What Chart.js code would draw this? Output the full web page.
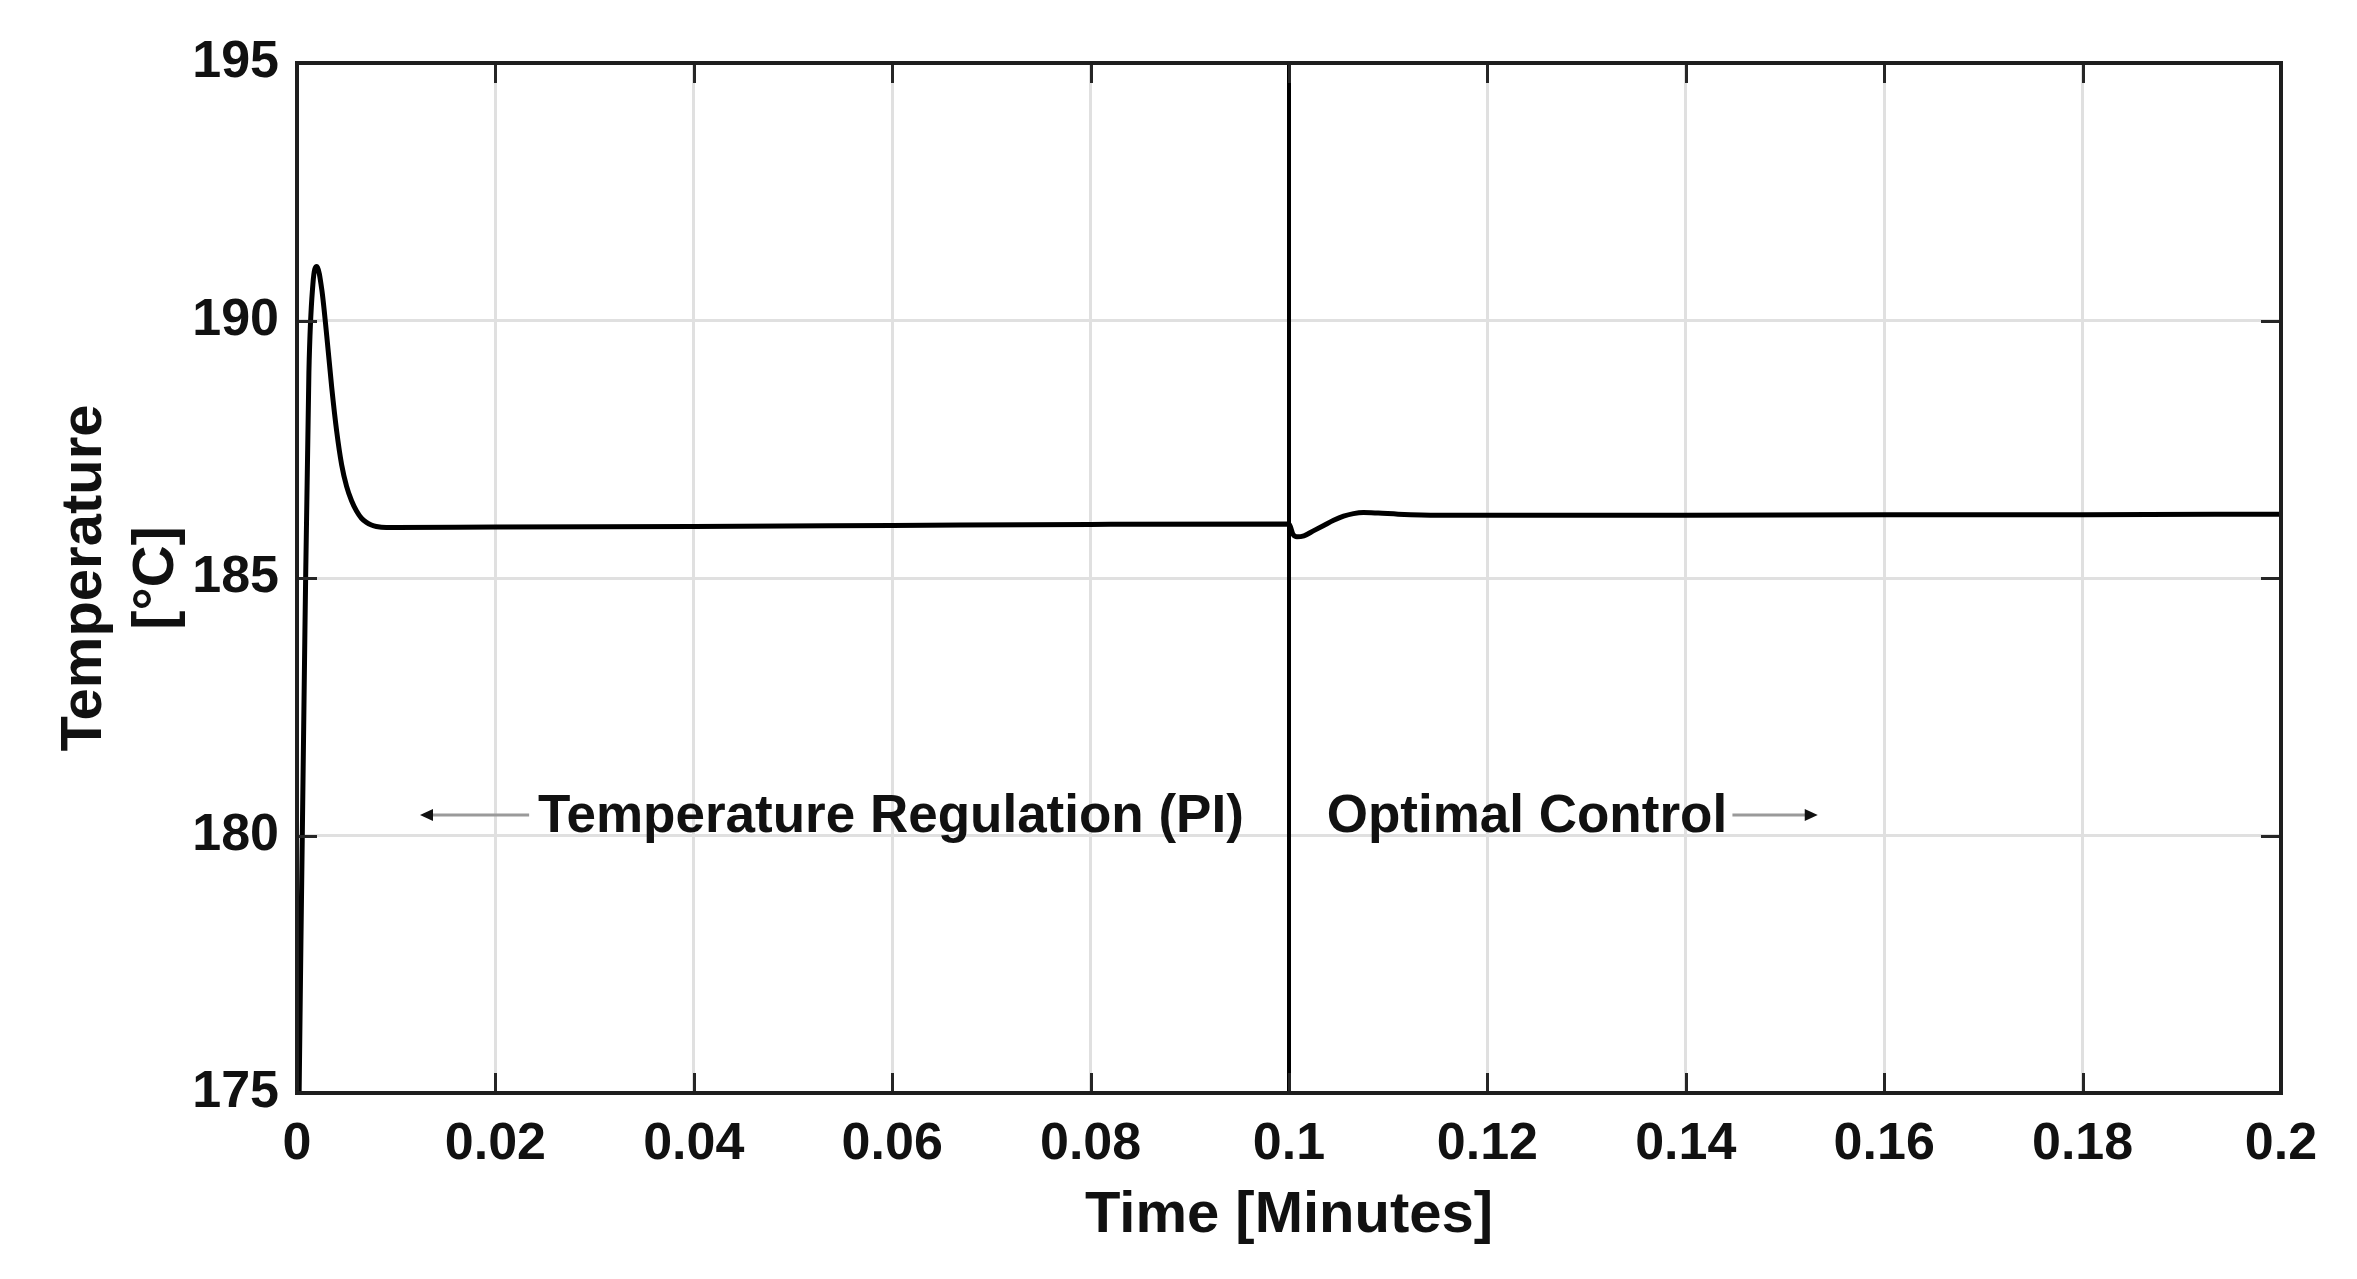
<!DOCTYPE html>
<html>
<head>
<meta charset="utf-8">
<script src="https://cdn.jsdelivr.net/npm/chart.js@4.4.1/dist/chart.umd.min.js"></script>
<style>
  html, body { margin: 0; padding: 0; background: #ffffff; }
  #wrap { width: 2357px; height: 1279px; position: relative; }
</style>
</head>
<body>
<div id="wrap"><canvas id="c"></canvas></div>
<script>
// ---- data ----
const timeMinutes = [0, 0.0004, 0.0008, 0.0012, 0.0016, 0.002, 0.0025, 0.003, 0.0035, 0.004, 0.0045,
  0.005, 0.0055, 0.006, 0.0065, 0.007, 0.0075, 0.008, 0.009, 0.01, 0.02, 0.04, 0.06, 0.08, 0.1,
  0.1004, 0.1008, 0.1015, 0.1025, 0.1035, 0.1045, 0.1055, 0.1065, 0.1075, 0.109, 0.111, 0.115,
  0.12, 0.14, 0.16, 0.18, 0.2];
const temperatureC = [171.5, 178.0, 184.0, 189.0, 190.7, 191.05, 190.6, 189.7, 188.7, 187.85, 187.2,
  186.78, 186.5, 186.3, 186.16, 186.08, 186.03, 186.0, 185.98, 185.98, 185.99, 186.0, 186.02, 186.04, 186.05,
  185.85, 185.80, 185.82, 185.92, 186.02, 186.12, 186.2, 186.25, 186.27, 186.26, 186.24, 186.22,
  186.22, 186.22, 186.23, 186.23, 186.24];
const switchTime = [0.1, 0.1];
const switchTemp = [175, 195];
const xTickValues = [0, 0.02, 0.04, 0.06, 0.08, 0.1, 0.12, 0.14, 0.16, 0.18, 0.2];
const xTickLabels = ['0', '0.02', '0.04', '0.06', '0.08', '0.1', '0.12', '0.14', '0.16', '0.18', '0.2'];
const yTickValues = [175, 180, 185, 190, 195];
const yTickLabels = ['175', '180', '185', '190', '195'];
const xTitle = 'Time [Minutes]';
const yTitle = ['Temperature', '[°C]'];
const noteTexts = ['Temperature Regulation (PI)', 'Optimal Control'];
const noteTextX = [0.0243, 0.1038];
const noteTextY = [180.4, 180.4];
const arrowTailX = [0.0234, 0.1447];
const arrowHeadX = [0.0124, 0.1533];

// ---- styling ----
const FONT = "'Liberation Sans', Arial, Helvetica, sans-serif";
const INK = '#111111';

const curve = timeMinutes.map((t, i) => ({ x: t, y: temperatureC[i] }));
const vline = switchTime.map((t, i) => ({ x: t, y: switchTemp[i] }));

const matlabAxes = {
  id: 'matlabAxes',
  afterDatasetsDraw(chart) {
    const { ctx, chartArea: a, scales } = chart;
    const xs = scales.x, ys = scales.y;
    ctx.save();
    // inward tick marks on all four sides
    ctx.strokeStyle = '#262626';
    ctx.lineWidth = 3;
    const tl = 20;
    xTickValues.forEach(v => {
      const px = Math.round(xs.getPixelForValue(v)) + 0.5;
      ctx.beginPath();
      ctx.moveTo(px, a.bottom); ctx.lineTo(px, a.bottom - tl);
      ctx.moveTo(px, a.top); ctx.lineTo(px, a.top + tl);
      ctx.stroke();
    });
    yTickValues.forEach(v => {
      const py = Math.round(ys.getPixelForValue(v)) + 0.5;
      ctx.beginPath();
      ctx.moveTo(a.left, py); ctx.lineTo(a.left + tl, py);
      ctx.moveTo(a.right, py); ctx.lineTo(a.right - tl, py);
      ctx.stroke();
    });
    // box
    ctx.strokeStyle = '#1e1e1e';
    ctx.lineWidth = 4;
    ctx.strokeRect(a.left, a.top, a.right - a.left, a.bottom - a.top);

    // annotations
    ctx.font = 'bold 53px ' + FONT;
    ctx.fillStyle = INK;
    ctx.textAlign = 'left';
    ctx.textBaseline = 'middle';
    noteTexts.forEach((txt, i) => {
      ctx.fillText(txt, xs.getPixelForValue(noteTextX[i]), ys.getPixelForValue(noteTextY[i]) + 2);
    });
    arrowTailX.forEach((tx, i) => {
      const y = ys.getPixelForValue(noteTextY[i]);
      const x0 = xs.getPixelForValue(tx);
      const x1 = xs.getPixelForValue(arrowHeadX[i]);
      const dir = Math.sign(x1 - x0);
      ctx.strokeStyle = '#9a9a9a';
      ctx.lineWidth = 3;
      ctx.beginPath();
      ctx.moveTo(x0, y); ctx.lineTo(x1 - dir * 10, y);
      ctx.stroke();
      ctx.fillStyle = '#111111';
      ctx.beginPath();
      ctx.moveTo(x1, y);
      ctx.lineTo(x1 - dir * 13, y - 6);
      ctx.lineTo(x1 - dir * 13, y + 6);
      ctx.closePath();
      ctx.fill();
    });
    ctx.restore();
  }
};

new Chart(document.getElementById('c'), {
  type: 'line',
  data: {
    datasets: [
      {
        data: curve,
        borderColor: '#000000',
        borderWidth: 5,
        pointRadius: 0,
        cubicInterpolationMode: 'monotone',
        fill: false
      },
      {
        data: vline,
        borderColor: '#000000',
        borderWidth: 4,
        pointRadius: 0,
        fill: false
      }
    ]
  },
  plugins: [matlabAxes],
  options: {
    responsive: true,
    maintainAspectRatio: false,
    animation: false,
    devicePixelRatio: 1,
    layout: { padding: { top: 63, right: 76, left: 0, bottom: 0 } },
    plugins: { legend: { display: false }, tooltip: { enabled: false } },
    scales: {
      x: {
        type: 'linear',
        min: 0, max: 0.2,
        afterBuildTicks: s => { s.ticks = xTickValues.map(v => ({ value: v })); },
        afterFit: s => { s.height = 186; },
        grid: { color: '#e0e0e0', lineWidth: 3, drawTicks: false },
        border: { display: false },
        ticks: {
          padding: 20,
          maxRotation: 0,
          autoSkip: false,
          color: INK,
          font: { family: FONT, size: 52, weight: 'bold', lineHeight: 1.2 },
          callback: (v, i) => xTickLabels[i]
        },
        title: {
          display: true,
          text: xTitle,
          color: INK,
          font: { family: FONT, size: 58, weight: 'bold', lineHeight: 1.2 },
          padding: { top: 0, bottom: 28 }
        }
      },
      y: {
        type: 'linear',
        min: 175, max: 195,
        afterBuildTicks: s => { s.ticks = yTickValues.map(v => ({ value: v })); },
        afterFit: s => { s.width = 297; },
        grid: { color: '#e0e0e0', lineWidth: 3, drawTicks: false },
        border: { display: false },
        ticks: {
          padding: 18,
          color: INK,
          font: { family: FONT, size: 52, weight: 'bold', lineHeight: 1.2 },
          callback: (v, i) => yTickLabels[i]
        },
        title: {
          display: true,
          text: yTitle,
          color: INK,
          font: { family: FONT, size: 58, weight: 'bold', lineHeight: '72px' },
          padding: { top: 49, bottom: 0 }
        }
      }
    }
  }
});
</script>
</body>
</html>
